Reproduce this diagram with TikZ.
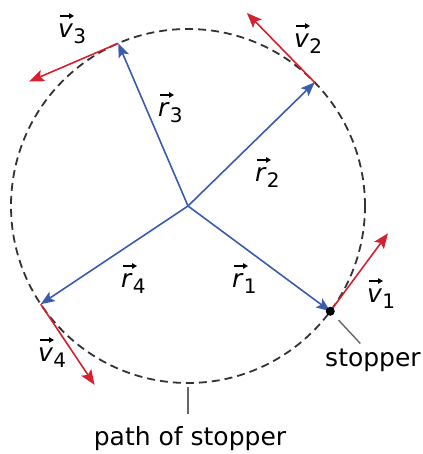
\documentclass[tikz,border=0pt]{standalone}
\usepackage{fontspec}
\setmainfont{DejaVu Sans}
\usepackage{tikz}
\usetikzlibrary{calc, arrows.meta}
\definecolor{radColor}{HTML}{3A5CAD}
\definecolor{velColor}{HTML}{D42330}
\definecolor{pathColor}{HTML}{333333}
\newcommand{\vlab}[2]{\textit{#1}\raisebox{-6pt}{\fontsize{20}{20}\selectfont #2}}

\begin{document}
\begin{tikzpicture}[x=1pt, y=1pt,
    lab/.style={font=\fontsize{25}{29}\selectfont, inner sep=0pt, anchor=base west},
    radvec/.style={-{Stealth[length=14pt, width=11pt, inset=3pt]}, radColor, line width=1.6pt},
    velvec/.style={-{Stealth[length=15pt, width=12pt, inset=3pt]}, velColor, line width=1.6pt},
    vecarr/.style={-{Triangle[length=5pt, width=5.5pt]}, line width=1.2pt},
    leader/.style={gray!80!black, line width=1.4pt}]
    \useasboundingbox (0,0) rectangle (422,454);
    \coordinate (O) at (188,248);
    \draw[pathColor, line width=1.8pt, dash pattern=on 8pt off 5pt] (O) circle [radius=177];
    \foreach \i/\a in {1/-36.5, 2/44.3, 3/113.2, 4/213.7} {
        \coordinate (P\i) at ($(O)+(\a:177)$);
        \coordinate (V\i) at ($(P\i)+(\a+90:97)$);
    }
    \foreach \i in {1,...,4} {
        \draw[radvec] (O) -- (P\i);
        \draw[velvec] (P\i) -- (V\i);
    }
    \fill (P1) circle (4.5pt);
    \node[lab] (r1) at (232,166) {\vlab{r}{1}};
    \node[lab] (r2) at (255,272) {\vlab{r}{2}};
    \node[lab] (r3) at (158,337) {\vlab{r}{3}};
    \node[lab] (r4) at (121,166) {\vlab{r}{4}};
    \node[lab] (v1) at (367,151) {\vlab{v}{1}};
    \node[lab] (v2) at (294,406) {\vlab{v}{2}};
    \node[lab] (v3) at (58,416) {\vlab{v}{3}};
    \node[lab] (v4) at (38,92) {\vlab{v}{4}};
    \foreach \n in {r1,r2,r3,r4,v1,v2,v3,v4}
        \draw[vecarr] ($(\n.base west)+(2,22)$) -- ++(14,0);
    \node[lab, anchor=base] (stopper) at (373,87) {stopper};
    \node[lab, anchor=base] (path) at (190,9) {path of stopper};
    \coordinate (s1) at ($(P1)+(-47:12)$);
    \coordinate (s2) at ($(P1)+(-47:44)$);
    \draw[leader] (s1) -- (s2);
    \coordinate (p1) at ($(O)+(0,-181)$);
    \coordinate (p2) at ($(O)+(0,-208)$);
    \draw[leader] (p1) -- (p2);
\end{tikzpicture}
\end{document}
